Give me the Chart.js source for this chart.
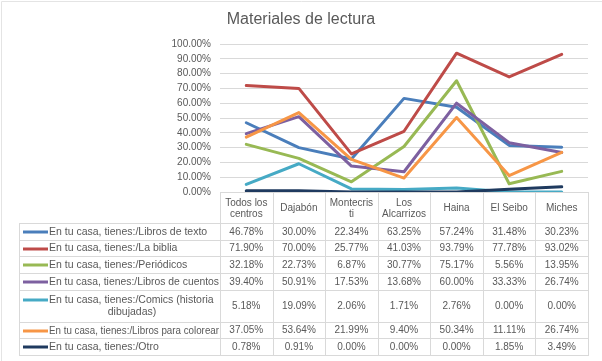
<!DOCTYPE html>
<html>
<head>
<meta charset="utf-8">
<script src="https://cdn.jsdelivr.net/npm/chart.js@4.4.1/dist/chart.umd.min.js"></script>
<style>
  html, body { margin: 0; padding: 0; background: #fff; }
  #wrap { width: 602px; height: 361px; }
</style>
</head>
<body>
<div id="wrap"><canvas id="mainChart" width="602" height="361"></canvas></div>
<script>
// Categories (header lines of the data table)
const categoryLines = [
    ['Todos los', 'centros'],
    ['Dajabón'],
    ['Montecris', 'ti'],
    ['Los', 'Alcarrizos'],
    ['Haina'],
    ['El Seibo'],
    ['Miches']
];
const categories = categoryLines.map(l => l.join(' '));

// Series values (percent)
const librosTexto = [46.78, 30.00, 22.34, 63.25, 57.24, 31.48, 30.23];
const laBiblia = [71.90, 70.00, 25.77, 41.03, 93.79, 77.78, 93.02];
const periodicos = [32.18, 22.73, 6.87, 30.77, 75.17, 5.56, 13.95];
const librosCuentos = [39.40, 50.91, 17.53, 13.68, 60.00, 33.33, 26.74];
const comics = [5.18, 19.09, 2.06, 1.71, 2.76, 0.00, 0.00];
const librosColorear = [37.05, 53.64, 21.99, 9.40, 50.34, 11.11, 26.74];
const otro = [0.78, 0.91, 0.00, 0.00, 0.00, 1.85, 3.49];

// Series names (table row labels, wrapped as in the original)
const seriesLines = [
    ['En tu casa, tienes:/Libros de texto'],
    ['En tu casa, tienes:/La biblia'],
    ['En tu casa, tienes:/Periódicos'],
    ['En tu casa, tienes:/Libros de cuentos'],
    ['En tu casa, tienes:/Comics (historia', 'dibujadas)'],
    ['En tu casa, tienes:/Libros para colorear'],
    ['En tu casa, tienes:/Otro']
];
const seriesData = [librosTexto, laBiblia, periodicos, librosCuentos, comics, librosColorear, otro];
const seriesColors = ['#4A7EBB', '#BE4B48', '#98B954', '#7D60A0', '#46AAC5', '#F79646', '#1F3A5F'];

const chartTitle = 'Materiales de lectura';
const yTicks = [0, 10, 20, 30, 40, 50, 60, 70, 80, 90, 100];

const TEXT_COLOR = '#595959';
const GRID_COLOR = '#D9D9D9';
const FONT = '"Liberation Sans", Arial, sans-serif';

// Title centred on the whole canvas + faint outer chart border
const titlePlugin = {
    id: 'chartTitle',
    beforeDraw(chart) {
        const { ctx, width } = chart;
        ctx.save();
        ctx.strokeStyle = '#E4E4E4';
        ctx.lineWidth = 1;
        ctx.beginPath();
        ctx.moveTo(1.5, chart.height);
        ctx.lineTo(1.5, 1.5);
        ctx.lineTo(width, 1.5);
        ctx.stroke();
        ctx.fillStyle = TEXT_COLOR;
        ctx.font = '16px ' + FONT;
        ctx.textAlign = 'center';
        ctx.textBaseline = 'middle';
        ctx.fillText(chartTitle, width / 2, 20);
        ctx.restore();
    }
};

// Data table drawn under the plot, aligned to the x scale
const dataTablePlugin = {
    id: 'dataTable',
    afterDraw(chart) {
        const { ctx, chartArea } = chart;
        const xScale = chart.scales.x;
        const n = categories.length;
        const step = (chartArea.right - chartArea.left) / n;
        const headTop = chartArea.bottom;
        const headBottom = headTop + 31;
        const rowH = seriesLines.map(l => l.length > 1 ? 32 : 16.7);
        const tableLeft = 19;
        const tableBottom = headBottom + rowH.reduce((a, b) => a + b, 0);

        ctx.save();
        ctx.strokeStyle = GRID_COLOR;
        ctx.lineWidth = 1;

        // vertical lines of the value columns
        for (let i = 0; i <= n; i++) {
            const xp = Math.round(chartArea.left + i * step) + 0.5;
            ctx.beginPath();
            ctx.moveTo(xp, headTop);
            ctx.lineTo(xp, Math.round(tableBottom) + 0.5);
            ctx.stroke();
        }
        // left border of row label column
        ctx.beginPath();
        ctx.moveTo(tableLeft + 0.5, headBottom);
        ctx.lineTo(tableLeft + 0.5, Math.round(tableBottom) + 0.5);
        ctx.stroke();
        // horizontal lines
        let yy = headBottom;
        const hLines = [headBottom];
        rowH.forEach(h => { yy += h; hLines.push(yy); });
        hLines.forEach(h => {
            ctx.beginPath();
            ctx.moveTo(tableLeft, Math.round(h) + 0.5);
            ctx.lineTo(chartArea.right + 1, Math.round(h) + 0.5);
            ctx.stroke();
        });

        ctx.fillStyle = TEXT_COLOR;
        ctx.font = '10px ' + FONT;
        ctx.textAlign = 'center';
        ctx.textBaseline = 'middle';

        // header labels
        categoryLines.forEach((lines, i) => {
            const cx = xScale.getPixelForValue(i);
            const midY = (headTop + headBottom) / 2 + 1;
            const lh = 11.5;
            lines.forEach((t, k) => {
                ctx.fillText(t, cx, midY + (k - (lines.length - 1) / 2) * lh);
            });
        });

        // rows
        let top = headBottom;
        seriesLines.forEach((lines, r) => {
            const h = rowH[r];
            const midY = top + h / 2 + 0.5;
            // legend key
            ctx.strokeStyle = seriesColors[r];
            ctx.lineWidth = 3;
            const keyY = Math.round(lines.length > 1 ? midY - 6 : midY);
            ctx.beginPath();
            ctx.moveTo(23, keyY);
            ctx.lineTo(48, keyY);
            ctx.stroke();
            // label
            ctx.fillStyle = TEXT_COLOR;
            ctx.font = '10.5px ' + FONT;
            if (lines.length > 1) {
                ctx.textAlign = 'left';
                ctx.fillText(lines[0], 49, midY - 6, 170);
                ctx.textAlign = 'center';
                ctx.fillText(lines[1], 132, midY + 6);
            } else {
                ctx.textAlign = 'left';
                ctx.fillText(lines[0], 49, midY, 170);
            }
            // values
            ctx.font = '10px ' + FONT;
            ctx.textAlign = 'center';
            seriesData[r].forEach((v, i) => {
                ctx.fillText(v.toFixed(2) + '%', xScale.getPixelForValue(i), midY);
            });
            top += h;
        });
        ctx.restore();
    }
};

const ctx = document.getElementById('mainChart').getContext('2d');

const mainChart = new Chart(ctx, {
    type: 'line',
    data: {
        labels: categories,
        datasets: seriesData.map((d, i) => ({
            label: seriesLines[i].join(' '),
            data: d,
            borderColor: seriesColors[i],
            backgroundColor: seriesColors[i],
            borderWidth: 3,
            pointRadius: 0,
            tension: 0,
            fill: false,
            borderCapStyle: 'round',
            borderJoinStyle: 'round',
            order: seriesData.length - i
        }))
    },
    options: {
        responsive: false,
        devicePixelRatio: 1,
        animation: false,
        layout: {
            padding: { left: 0, right: 14, top: 44, bottom: 169 }
        },
        scales: {
            x: {
                display: false,
                offset: true
            },
            y: {
                min: 0,
                max: 100,
                afterBuildTicks(scale) {
                    scale.ticks = yTicks.map(v => ({ value: v }));
                },
                ticks: {
                    autoSkip: false,
                    color: TEXT_COLOR,
                    font: { size: 10, family: FONT },
                    padding: 9,
                    callback: v => v.toFixed(2) + '%'
                },
                grid: { color: GRID_COLOR, drawTicks: false },
                border: { display: false },
                afterFit(scale) { scale.width = 220; }
            }
        },
        plugins: {
            legend: { display: false },
            tooltip: { enabled: false },
            title: { display: false }
        }
    },
    plugins: [titlePlugin, dataTablePlugin]
});
</script>
</body>
</html>
